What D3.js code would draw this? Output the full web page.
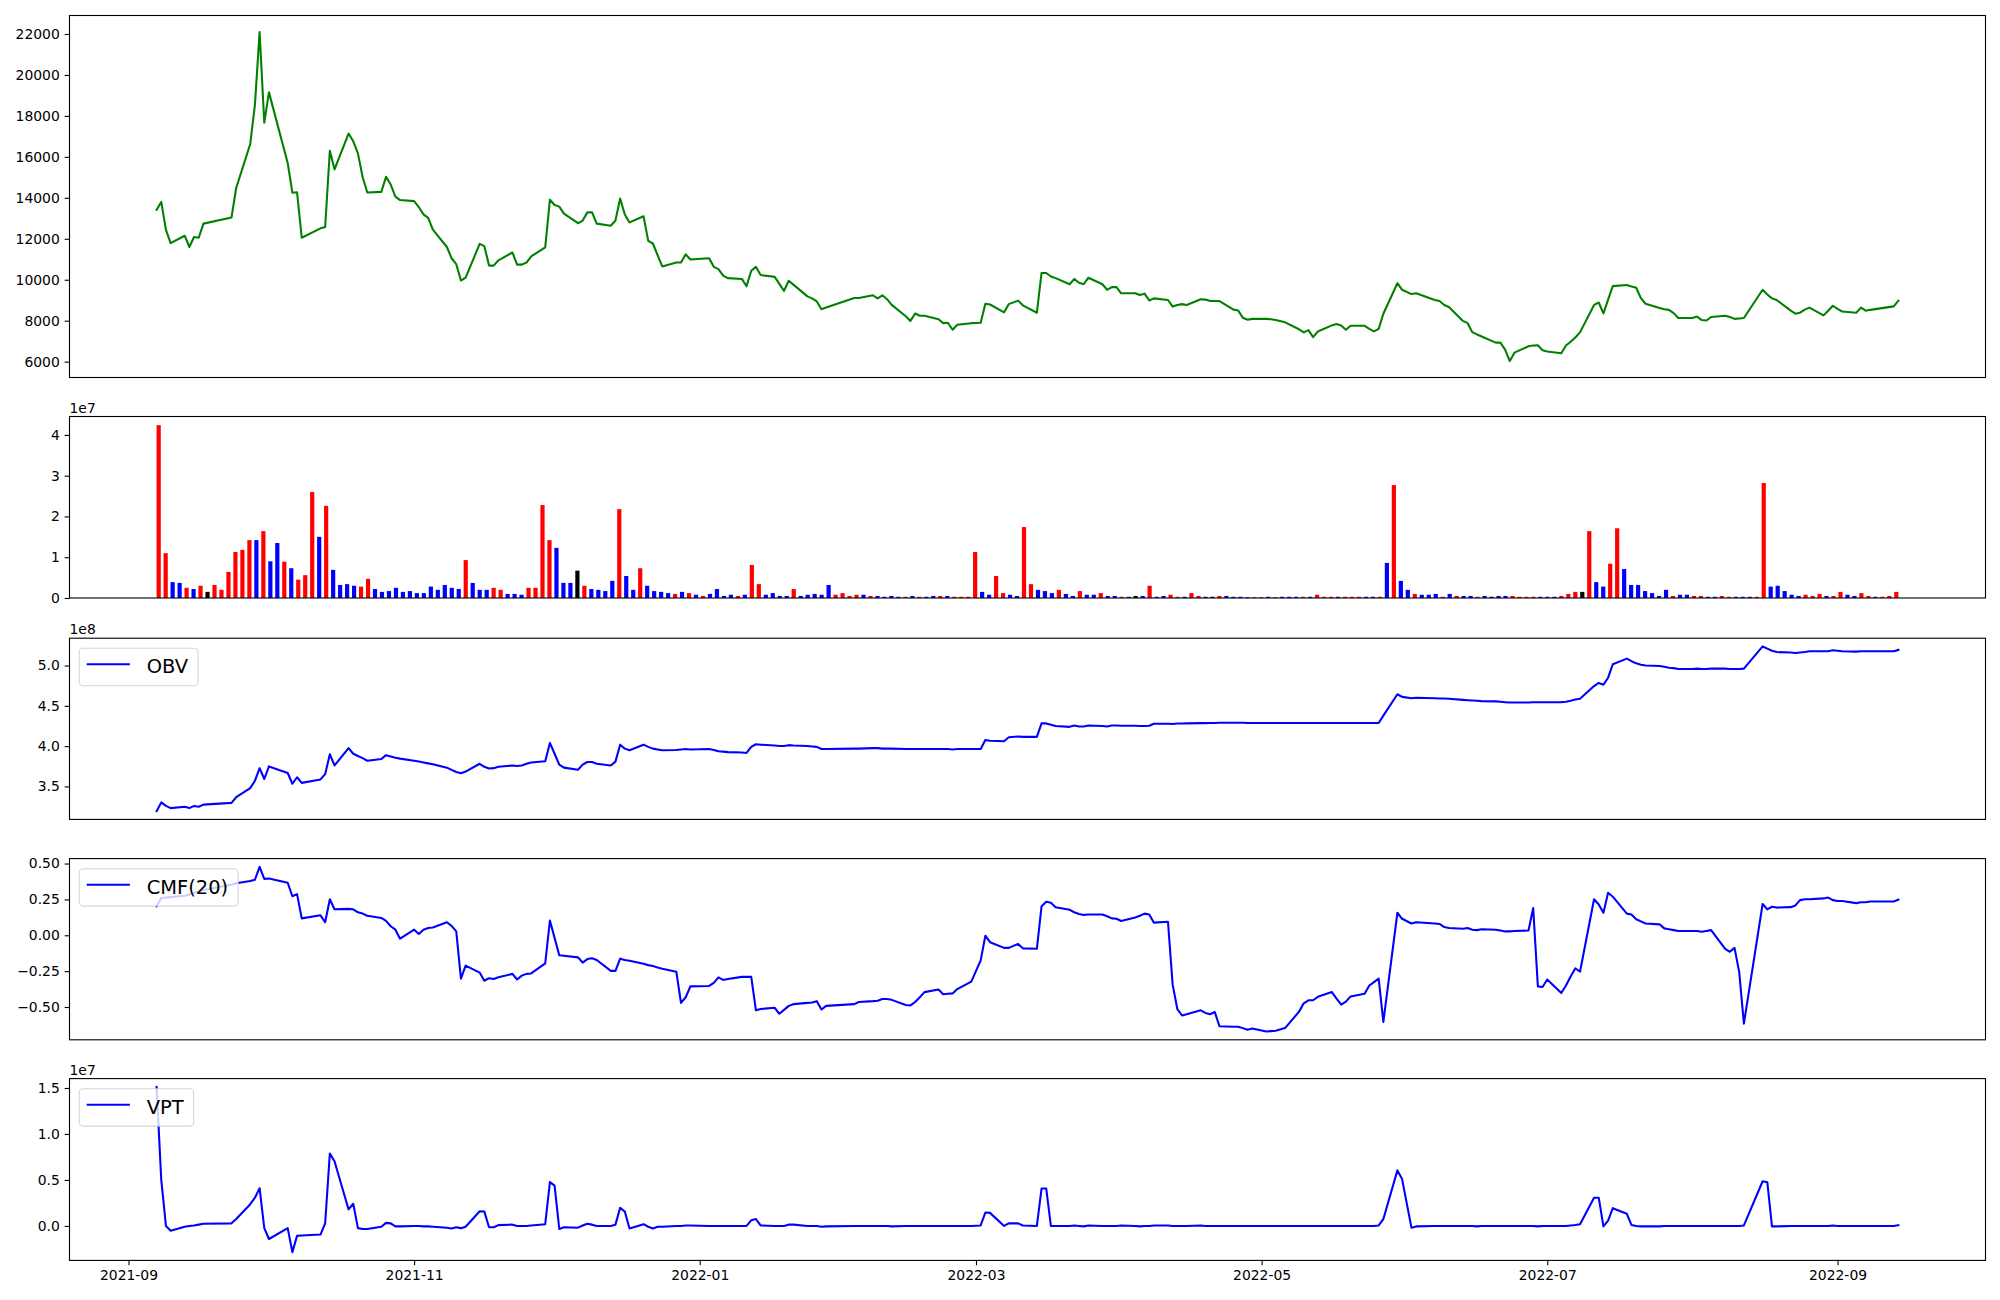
<!DOCTYPE html>
<html><head><meta charset="utf-8">
<script src="https://cdn.jsdelivr.net/npm/d3@7"></script>
<style>
body{margin:0;background:#fff}
svg{display:block}
text{font-family:"DejaVu Sans",sans-serif}
</style>
</head><body>
<svg id="c" width="2000" height="1300"></svg>
<script>
// ---- categories: KRX trading days ----
const startDate = "2021-09-07", endDate = "2022-09-14";
const holidays = ["2021-09-20","2021-09-21","2021-09-22","2021-10-04","2021-10-11","2021-12-31",
  "2022-01-31","2022-02-01","2022-02-02","2022-03-01","2022-03-09","2022-05-05","2022-06-01",
  "2022-06-06","2022-08-15","2022-09-09","2022-09-12"];
const xTickLabels = ["2021-09","2021-11","2022-01","2022-03","2022-05","2022-07","2022-09"];

// ---- series ----
const price = [
13420,13800,12435,11790,12150,11600,12090,12050,12740,13040,
14480,16630,18540,22100,17670,19150,15700,14250,14270,12050,
12510,12570,16300,15390,17140,16760,16170,15020,14260,14290,
15030,14650,14060,13890,13840,13550,13190,13020,12450,11600,
11050,10760,9960,10100,11750,11640,10690,10690,10950,11330,
10740,10740,10840,11140,11580,13910,13650,13570,13230,12760,
12890,13290,13290,12740,12640,12890,13970,13190,12800,13100,
11900,11770,11200,10650,10840,10840,11240,10990,11050,10630,
10520,10200,10080,10040,9680,10440,10630,10230,10140,9800,
9460,9950,9760,9190,9090,8940,8560,8640,9110,9110,
9240,9090,9240,9050,8770,8220,7990,8350,8240,8240,
8070,7880,7900,7560,7800,7880,7900,8830,8790,8410,
8810,8980,8750,8390,10330,10330,10160,10080,9780,10040,
9850,9780,10100,9780,9510,9640,9640,9340,9340,9260,
9320,8990,9090,9010,8690,8770,8810,8770,9050,9030,
8960,8960,8960,8540,8500,8140,8050,8090,8090,8070,
8030,7920,7580,7430,7540,7200,7470,7770,7840,7770,
7560,7750,7750,7600,7480,7600,8340,9830,9510,9300,
9340,9010,8960,8770,8670,7990,7880,7440,7330,7230,
6930,6930,6590,6030,6440,6750,6790,6800,6560,6500,
6410,6790,6970,7180,7430,8770,8890,8360,9030,9690,
9740,9670,9610,9100,8830,8620,8560,8530,8370,8130,
8130,8200,8030,8010,8180,8240,8180,8090,8110,8130,
9510,9280,9090,9010,8490,8340,8390,8540,8640,8260,
8490,8730,8580,8450,8390,8640,8490,8530,8700,8980];

const VOL_UNIT = 1e7;
const volume = [
4.24,1.10,0.39,0.37,0.25,0.22,0.30,0.15,0.32,0.20,
0.64,1.13,1.18,1.42,1.42,1.64,0.90,1.35,0.89,0.73,
0.45,0.56,2.60,1.50,2.26,0.69,0.32,0.34,0.30,0.28,
0.47,0.22,0.15,0.17,0.25,0.15,0.17,0.12,0.12,0.28,
0.20,0.32,0.25,0.22,0.93,0.37,0.20,0.20,0.25,0.20,
0.10,0.10,0.08,0.25,0.25,2.28,1.42,1.23,0.37,0.37,
0.67,0.30,0.22,0.20,0.17,0.42,2.18,0.54,0.20,0.73,
0.30,0.17,0.15,0.12,0.10,0.15,0.12,0.08,0.05,0.10,
0.22,0.05,0.08,0.05,0.08,0.81,0.34,0.08,0.12,0.05,
0.05,0.22,0.05,0.08,0.10,0.08,0.32,0.08,0.12,0.05,
0.08,0.08,0.05,0.05,0.03,0.05,0.03,0.03,0.05,0.03,
0.03,0.05,0.05,0.05,0.03,0.03,0.03,1.13,0.15,0.08,
0.54,0.12,0.08,0.05,1.74,0.34,0.20,0.17,0.12,0.20,
0.10,0.05,0.17,0.08,0.08,0.12,0.05,0.05,0.03,0.03,
0.05,0.05,0.30,0.03,0.05,0.08,0.03,0.03,0.12,0.05,
0.03,0.03,0.05,0.05,0.03,0.03,0.02,0.02,0.02,0.03,
0.02,0.03,0.03,0.03,0.03,0.03,0.08,0.03,0.03,0.03,
0.03,0.03,0.03,0.03,0.03,0.03,0.86,2.77,0.42,0.20,
0.10,0.08,0.08,0.10,0.03,0.10,0.05,0.05,0.05,0.03,
0.05,0.03,0.05,0.05,0.05,0.03,0.03,0.03,0.03,0.03,
0.03,0.05,0.10,0.15,0.15,1.64,0.39,0.28,0.84,1.71,
0.71,0.32,0.32,0.17,0.12,0.05,0.20,0.05,0.08,0.08,
0.05,0.05,0.03,0.03,0.05,0.03,0.03,0.03,0.03,0.03,
2.82,0.28,0.30,0.17,0.08,0.05,0.08,0.05,0.10,0.05,
0.05,0.15,0.08,0.05,0.12,0.05,0.03,0.03,0.05,0.15];
// r = red, b = blue, k = black
const volColor = ("rrbbrbrkrr"+"rrrrbrbbrb"+"rrrbrbbbbr"+"rbbbbbbbbb"+"bbbbrbbbrr"+
  "bbbrrrrbbb"+"krbbbbrbbr"+"bbbbrbrbrb"+"bbbrbrrbbb"+"brbbbbbrrr"+
  "rbrbbbbrbr"+"bbrbrrrrbb"+"rrbbrrbbbr"+"bbrbbrbbrb"+"kbrbbrrbrr"+
  "bkrbbbbrrb"+"rbbbrbrrrb"+"rrrbbrbrbb"+"rbbbrbrbbr"+"bkbbrrrrbb"+
  "brrrkrbbrr"+"bbbbbbbrbb"+"rrbbrrbbbr"+"rbbbbbrrrb"+"rrbbrrbrrr").split("");

const OBV_UNIT = 1e8;
const obv = [
3.193,3.301,3.258,3.231,3.247,3.231,3.258,3.247,3.274,3.296,
3.366,3.479,3.570,3.727,3.592,3.748,3.667,3.533,3.614,3.544,
3.587,3.652,3.900,3.760,3.975,3.905,3.878,3.851,3.819,3.840,
3.888,3.872,3.856,3.845,3.819,3.808,3.797,3.786,3.776,3.733,
3.706,3.679,3.663,3.684,3.781,3.743,3.722,3.727,3.743,3.760,
3.754,3.760,3.781,3.797,3.813,4.040,3.905,3.770,3.733,3.706,
3.770,3.803,3.803,3.781,3.760,3.808,4.018,3.969,3.948,4.018,
3.991,3.969,3.959,3.948,3.953,3.959,3.964,3.959,3.964,3.953,
3.937,3.932,3.926,3.921,3.915,3.991,4.023,4.018,4.007,4.002,
4.002,4.012,4.007,4.002,3.996,3.991,3.964,3.964,3.969,3.969,
3.975,3.975,3.969,3.969,3.969,3.964,3.964,3.964,3.964,3.964,
3.964,3.964,3.964,3.959,3.964,3.964,3.964,4.077,4.066,4.061,
4.110,4.120,4.115,4.115,4.282,4.282,4.266,4.249,4.239,4.255,
4.244,4.244,4.255,4.249,4.244,4.255,4.255,4.252,4.252,4.250,
4.250,4.252,4.277,4.277,4.275,4.280,4.280,4.282,4.285,4.285,
4.287,4.287,4.290,4.290,4.290,4.290,4.288,4.288,4.288,4.288,
4.288,4.287,4.287,4.286,4.286,4.286,4.287,4.287,4.287,4.287,
4.287,4.287,4.287,4.287,4.287,4.287,4.379,4.644,4.611,4.595,
4.600,4.595,4.590,4.590,4.588,4.574,4.570,4.566,4.562,4.558,
4.555,4.550,4.545,4.541,4.541,4.541,4.544,4.544,4.544,4.544,
4.546,4.551,4.562,4.579,4.589,4.746,4.784,4.762,4.849,5.016,
5.086,5.054,5.027,5.011,5.000,4.994,4.984,4.973,4.968,4.957,
4.957,4.962,4.957,4.957,4.962,4.962,4.957,4.957,4.957,4.962,
5.237,5.210,5.183,5.167,5.162,5.156,5.162,5.167,5.178,5.178,
5.178,5.189,5.183,5.178,5.173,5.178,5.178,5.178,5.178,5.194];

const cmf = [
0.202,0.260,0.263,0.266,0.275,0.285,0.295,0.305,0.316,0.353,
0.363,0.378,0.387,0.477,0.393,0.396,0.366,0.272,0.287,0.118,
0.139,0.091,0.251,0.181,0.184,0.181,0.160,0.151,0.136,0.121,
0.100,0.063,0.039,-0.024,0.039,0.009,0.039,0.051,0.054,0.091,
0.066,0.027,-0.302,-0.211,-0.260,-0.317,-0.299,-0.305,-0.293,-0.269,
-0.308,-0.281,-0.269,-0.266,-0.196,0.103,-0.018,-0.139,-0.143,-0.154,
-0.190,-0.166,-0.160,-0.172,-0.248,-0.248,-0.163,-0.172,-0.178,-0.199,
-0.208,-0.214,-0.224,-0.233,-0.254,-0.471,-0.432,-0.356,-0.353,-0.332,
-0.293,-0.311,-0.305,-0.290,-0.290,-0.290,-0.523,-0.514,-0.505,-0.547,
-0.520,-0.492,-0.480,-0.471,-0.468,-0.459,-0.517,-0.492,-0.480,-0.465,
-0.459,-0.456,-0.444,-0.444,-0.450,-0.486,-0.489,-0.465,-0.432,-0.396,
-0.378,-0.411,-0.408,-0.405,-0.375,-0.323,-0.175,-0.003,-0.048,-0.088,
-0.088,-0.060,-0.091,-0.094,0.202,0.233,0.227,0.196,0.178,0.160,
0.148,0.142,0.145,0.145,0.133,0.118,0.115,0.100,0.124,0.136,
0.151,0.145,0.088,0.094,-0.344,-0.514,-0.559,-0.550,-0.523,-0.541,
-0.550,-0.535,-0.634,-0.637,-0.637,-0.647,-0.659,-0.650,-0.671,-0.668,
-0.665,-0.647,-0.532,-0.474,-0.453,-0.453,-0.429,-0.396,-0.441,-0.483,
-0.462,-0.426,-0.408,-0.350,-0.326,-0.302,-0.604,0.157,0.115,0.082,
0.091,0.082,0.079,0.057,0.051,0.045,0.051,0.039,0.036,0.042,
0.039,0.033,0.027,0.027,0.030,0.033,0.190,-0.356,-0.360,-0.308,
-0.402,-0.350,-0.287,-0.230,-0.254,0.251,0.215,0.157,0.296,0.269,
0.151,0.145,0.112,0.097,0.082,0.076,0.048,0.042,0.036,0.030,
0.030,0.030,0.024,0.030,0.036,-0.094,-0.115,-0.088,-0.257,-0.616,
0.218,0.181,0.199,0.193,0.196,0.208,0.245,0.251,0.251,0.257,
0.263,0.245,0.239,0.239,0.224,0.230,0.230,0.236,0.236,0.248];

const VPT_UNIT = 1e7;
const vpt = [
1.512,0.500,0.000,-0.052,-0.009,0.000,0.005,0.014,0.024,0.028,
0.075,0.236,0.307,0.410,-0.024,-0.142,-0.024,-0.285,-0.108,-0.104,
-0.094,0.028,0.788,0.703,0.179,0.241,-0.024,-0.033,-0.033,-0.009,
0.033,0.028,-0.005,-0.005,0.000,0.000,-0.005,-0.005,-0.009,-0.019,
-0.028,-0.014,-0.024,-0.009,0.160,0.156,-0.014,-0.014,0.009,0.014,
0.000,0.000,0.000,0.005,0.019,0.476,0.439,-0.033,-0.014,-0.019,
0.005,0.024,0.014,0.000,0.000,0.014,0.198,0.156,-0.028,0.019,
-0.009,-0.028,-0.009,-0.009,0.000,0.000,0.005,0.005,0.000,0.000,
0.000,0.000,0.000,0.000,0.000,0.061,0.075,0.005,0.000,0.000,
0.000,0.014,0.014,0.000,0.000,0.000,-0.009,-0.005,0.000,0.000,
0.000,0.000,0.000,0.000,-0.005,0.000,0.000,0.000,0.000,0.000,
0.000,0.000,0.000,0.000,0.000,0.000,0.005,0.146,0.142,0.000,
0.028,0.028,0.005,0.000,0.406,0.406,0.000,0.000,0.000,0.005,
0.000,-0.005,0.005,0.000,0.000,0.000,0.000,0.005,0.000,-0.005,
0.000,0.000,0.005,0.005,0.000,0.000,0.000,0.000,0.005,0.000,
0.000,0.000,0.000,0.000,0.000,0.000,0.000,0.000,0.000,0.000,
0.000,0.000,0.000,0.000,0.000,0.000,0.000,0.000,0.000,0.000,
0.000,0.000,0.000,0.000,0.000,0.005,0.075,0.604,0.509,-0.019,
-0.005,0.000,0.000,0.000,0.000,0.000,0.000,0.000,-0.005,0.000,
0.000,0.000,0.000,0.000,0.000,0.000,0.000,-0.005,0.000,0.000,
0.000,0.000,0.005,0.010,0.019,0.307,0.307,-0.005,0.057,0.193,
0.132,0.009,0.000,-0.005,-0.005,-0.005,0.000,0.000,0.000,0.000,
0.000,0.000,0.000,0.000,0.000,0.000,0.000,0.000,0.000,0.005,
0.486,0.476,-0.005,-0.005,0.000,0.000,0.000,0.000,0.000,0.000,
0.000,0.005,0.000,0.000,0.000,0.000,0.000,0.000,0.000,0.009];

const priceTicks = [6000,8000,10000,12000,14000,16000,18000,20000,22000];
const volTicks = [0,1,2,3,4];
const obvTicks = [3.5,4.0,4.5,5.0];
const cmfTicks = [-0.5,-0.25,0,0.25,0.5];
const vptTicks = [0,0.5,1.0,1.5];

// ---- build dates ----
const parse = d3.utcParse("%Y-%m-%d"), fmtDay = d3.utcFormat("%Y-%m-%d");
const dates = d3.utcDay.range(parse(startDate), d3.utcDay.offset(parse(endDate),1))
  .filter(d => d.getUTCDay()>0 && d.getUTCDay()<6 && !holidays.includes(fmtDay(d)));

// ---- layout ----
const svg = d3.select("#c");
const L = 69.5, R = 1985.5;
const panels = [
  {top:15.5,  h:362},
  {top:416.5, h:181.5},
  {top:638.2, h:181.2},
  {top:858.6, h:181.2},
  {top:1078.6,h:181.8}
];
const FS = 13.9, TL = 4.86, LW = 2.08;
const colorMap = {r:"#ff0000", b:"#0000ff", k:"#000000"};

function padDomain(lo, hi){ const m=(hi-lo)*0.05; return [lo-m, hi+m]; }
const t0 = dates[0].getTime(), t1 = dates[dates.length-1].getTime();
const xd = padDomain(t0,t1);
const x = d3.scaleUtc().domain([new Date(xd[0]), new Date(xd[1])]).range([L,R]);

const N = volume.length, BW = 0.6;
const xv = d3.scaleLinear().domain(padDomain(-BW/2, N-1+BW/2)).range([L,R]);

function yScale(p, vals){ const e=d3.extent(vals); return d3.scaleLinear().domain(padDomain(e[0],e[1])).range([p.top+p.h, p.top]); }

function leftAxis(p, y, ticks, fmt){
  const g = svg.append("g").attr("transform",`translate(${L},0)`)
    .call(d3.axisLeft(y).tickValues(ticks).tickSize(TL).tickPadding(4.86).tickFormat(fmt));
  g.select(".domain").remove();
  g.selectAll("line").attr("stroke","#000").attr("stroke-width",1.1);
  g.selectAll("text").attr("font-size",FS).attr("fill","#000").attr("font-family","DejaVu Sans");
}
function frame(p){
  svg.append("rect").attr("x",L).attr("y",p.top).attr("width",R-L).attr("height",p.h)
    .attr("fill","none").attr("stroke","#000").attr("stroke-width",1.1);
}
function offsetText(p, s){
  svg.append("text").attr("x",L).attr("y",p.top-4).attr("font-size",FS).attr("fill","#000").text(s);
}
function drawLine(vals, y, color){
  svg.append("path").datum(vals)
    .attr("d", d3.line().x((d,i)=>x(dates[i])).y(d=>y(d)))
    .attr("fill","none").attr("stroke",color).attr("stroke-width",LW)
    .attr("stroke-linejoin","round").attr("stroke-linecap","square");
}
function legend(p, label){
  const g = svg.append("g");
  const bx = L+9.7, by = p.top+10.1;
  const rect = g.append("rect").attr("x",bx).attr("y",by).attr("height",37.4).attr("rx",4)
    .attr("fill","#fff").attr("fill-opacity",0.8).attr("stroke","#cccccc").attr("stroke-opacity",0.8).attr("stroke-width",1.1);
  g.append("line").attr("x1",bx+7.5).attr("x2",bx+50.7).attr("y1",by+16).attr("y2",by+16)
    .attr("stroke","#0000ff").attr("stroke-width",LW);
  const t = g.append("text").attr("x",bx+67.5).attr("y",by+25).attr("font-size",19.44).attr("fill","#000").text(label);
  const w = t.node().getComputedTextLength();
  rect.attr("width", w+77.5);
}

// Panel 1: price
{
  const p = panels[0], y = yScale(p, price);
  drawLine(price, y, "#008000");
  leftAxis(p, y, priceTicks, d3.format("d"));
  frame(p);
}
// Panel 2: volume bars
{
  const p = panels[1];
  const y = d3.scaleLinear().domain([0, d3.max(volume)*1.05]).range([p.top+p.h, p.top]);
  const bw = xv(BW) - xv(0);
  svg.append("g").selectAll("rect").data(volume).join("rect")
    .attr("x",(d,i)=>xv(i-BW/2)).attr("width",bw)
    .attr("y",d=>y(d)).attr("height",d=>y(0)-y(d))
    .attr("fill",(d,i)=>colorMap[volColor[i]]);
  leftAxis(p, y, volTicks, d3.format("d"));
  frame(p);
  offsetText(p, "1e7");
}
// Panel 3: OBV
{
  const p = panels[2], y = yScale(p, obv);
  drawLine(obv, y, "#0000ff");
  leftAxis(p, y, obvTicks, d3.format(".1f"));
  legend(p, "OBV");
  frame(p);
  offsetText(p, "1e8");
}
// Panel 4: CMF
{
  const p = panels[3], y = yScale(p, cmf);
  drawLine(cmf, y, "#0000ff");
  leftAxis(p, y, cmfTicks, d3.format(".2f"));
  legend(p, "CMF(20)");
  frame(p);
}
// Panel 5: VPT
{
  const p = panels[4], y = yScale(p, vpt);
  drawLine(vpt, y, "#0000ff");
  leftAxis(p, y, vptTicks, d3.format(".1f"));
  legend(p, "VPT");
  frame(p);
  offsetText(p, "1e7");
  const tickDates = xTickLabels.map(s => d3.utcParse("%Y-%m")(s));
  const g = svg.append("g").attr("transform",`translate(0,${p.top+p.h})`)
    .call(d3.axisBottom(x).tickValues(tickDates).tickSize(TL).tickPadding(4.86).tickFormat(d3.utcFormat("%Y-%m")));
  g.select(".domain").remove();
  g.selectAll("line").attr("stroke","#000").attr("stroke-width",1.1);
  g.selectAll("text").attr("font-size",FS).attr("fill","#000").attr("font-family","DejaVu Sans");
}
</script>
</body></html>
